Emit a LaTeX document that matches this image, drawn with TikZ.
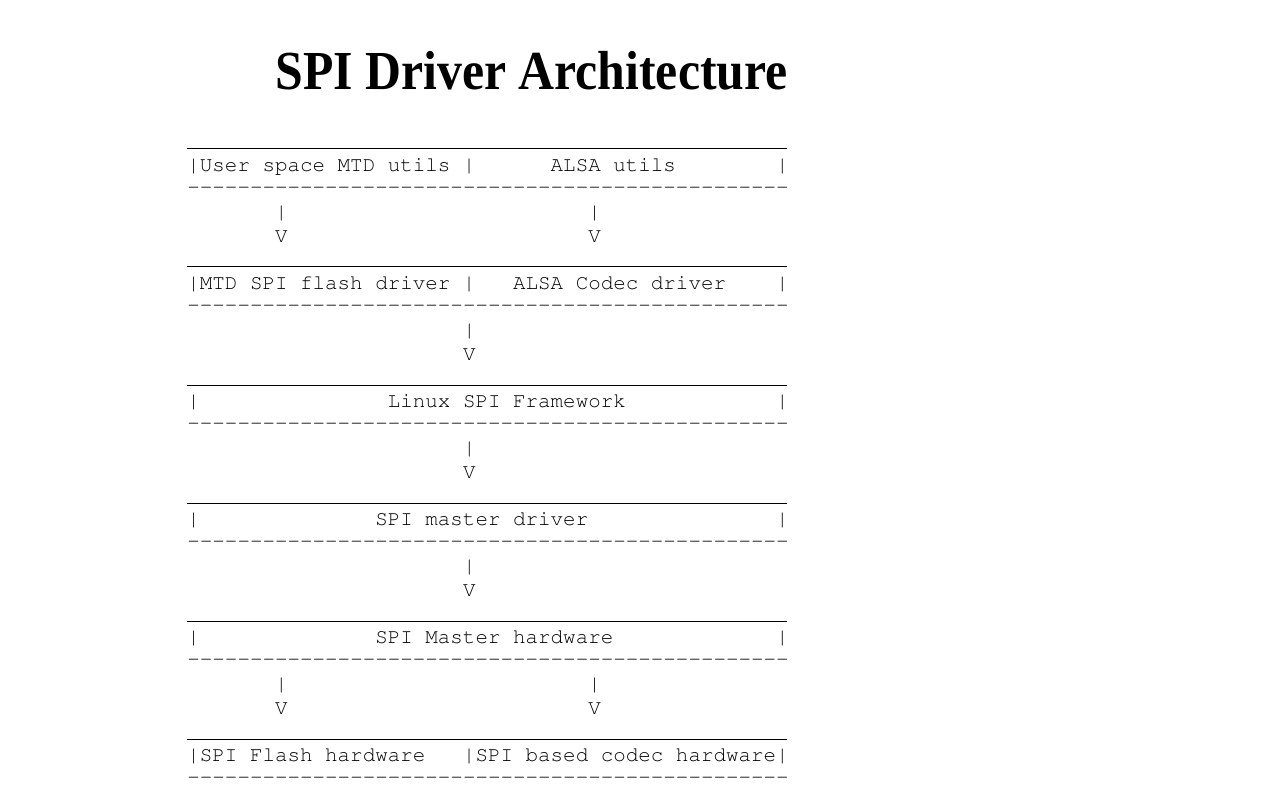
\documentclass[tikz,border=0pt]{standalone}
\usepackage[T1,TU]{fontenc}
\usepackage{fontspec}
\newfontfamily\titlefont{Liberation Serif}
\def\rulebot{-{}-{}-{}-{}-{}-{}-{}-{}-{}-{}-{}-{}-{}-{}-{}-{}-{}-{}-{}-{}-{}-{}-{}-{}-{}-{}-{}-{}-{}-{}-{}-{}-{}-{}-{}-{}-{}-{}-{}-{}-{}-{}-{}-{}-{}-{}-{}-{}}
\tikzset{
	ascii/.style={anchor=base west, inner sep=0pt, font=\fontencoding{T1}\fontfamily{pcr}\fontsize{10.44}{11.8}\selectfont},
	toprule/.style={line width=0.5pt},
	heading/.style={anchor=base west, inner sep=0pt, font=\titlefont\bfseries\fontsize{27.5}{30}\selectfont, xscale=0.905, transform shape}
}
\begin{document}
\begin{tikzpicture}[x=0.5pt, y=-0.5pt]
		\useasboundingbox (0,0) rectangle (1262,812);
		%%%%% TITLE %%%%%
		\node[heading] (title) at (275, 90) {SPI Driver Architecture};
		
		%%%%% USER SPACE %%%%%
		\draw[toprule] (187, 149) -- (787, 149);
		\node[ascii] (user) at (187, 171.5) {|User~space~MTD~utils~|~~~~~~ALSA~utils~~~~~~~~|};
		\node[ascii] (userBot) at (187, 193.3) {\rulebot};
		\node[ascii] (userBar) at (187, 218.7) {~~~~~~~|~~~~~~~~~~~~~~~~~~~~~~~~|};
		\node[ascii] (userTip) at (187, 242.3) {~~~~~~~V~~~~~~~~~~~~~~~~~~~~~~~~V};
		
		%%%%% DRIVERS %%%%%
		\draw[toprule] (187, 267) -- (787, 267);
		\node[ascii] (drv) at (187, 289.5) {|MTD~SPI~flash~driver~|~~~ALSA~Codec~driver~~~~|};
		\node[ascii] (drvBot) at (187, 311.3) {\rulebot};
		\node[ascii] (drvBar) at (187, 336.7) {~~~~~~~~~~~~~~~~~~~~~~|};
		\node[ascii] (drvTip) at (187, 360.3) {~~~~~~~~~~~~~~~~~~~~~~V};
		
		%%%%% FRAMEWORK %%%%%
		\draw[toprule] (187, 385) -- (787, 385);
		\node[ascii] (fw) at (187, 407.5) {|~~~~~~~~~~~~~~~Linux~SPI~Framework~~~~~~~~~~~~|};
		\node[ascii] (fwBot) at (187, 429.3) {\rulebot};
		\node[ascii] (fwBar) at (187, 454.7) {~~~~~~~~~~~~~~~~~~~~~~|};
		\node[ascii] (fwTip) at (187, 478.3) {~~~~~~~~~~~~~~~~~~~~~~V};
		
		%%%%% MASTER DRIVER %%%%%
		\draw[toprule] (187, 503) -- (787, 503);
		\node[ascii] (mdrv) at (187, 525.5) {|~~~~~~~~~~~~~~SPI~master~driver~~~~~~~~~~~~~~~|};
		\node[ascii] (mdrvBot) at (187, 547.3) {\rulebot};
		\node[ascii] (mdrvBar) at (187, 572.7) {~~~~~~~~~~~~~~~~~~~~~~|};
		\node[ascii] (mdrvTip) at (187, 596.3) {~~~~~~~~~~~~~~~~~~~~~~V};
		
		%%%%% MASTER HARDWARE %%%%%
		\draw[toprule] (187, 621) -- (787, 621);
		\node[ascii] (mhw) at (187, 643.5) {|~~~~~~~~~~~~~~SPI~Master~hardware~~~~~~~~~~~~~|};
		\node[ascii] (mhwBot) at (187, 665.3) {\rulebot};
		\node[ascii] (mhwBar) at (187, 690.7) {~~~~~~~|~~~~~~~~~~~~~~~~~~~~~~~~|};
		\node[ascii] (mhwTip) at (187, 714.3) {~~~~~~~V~~~~~~~~~~~~~~~~~~~~~~~~V};
		
		%%%%% DEVICES %%%%%
		\draw[toprule] (187, 739) -- (787, 739);
		\node[ascii] (dev) at (187, 761.5) {|SPI~Flash~hardware~~~|SPI~based~codec~hardware|};
		\node[ascii] (devBot) at (187, 783.3) {\rulebot};
	\end{tikzpicture}
\end{document}
